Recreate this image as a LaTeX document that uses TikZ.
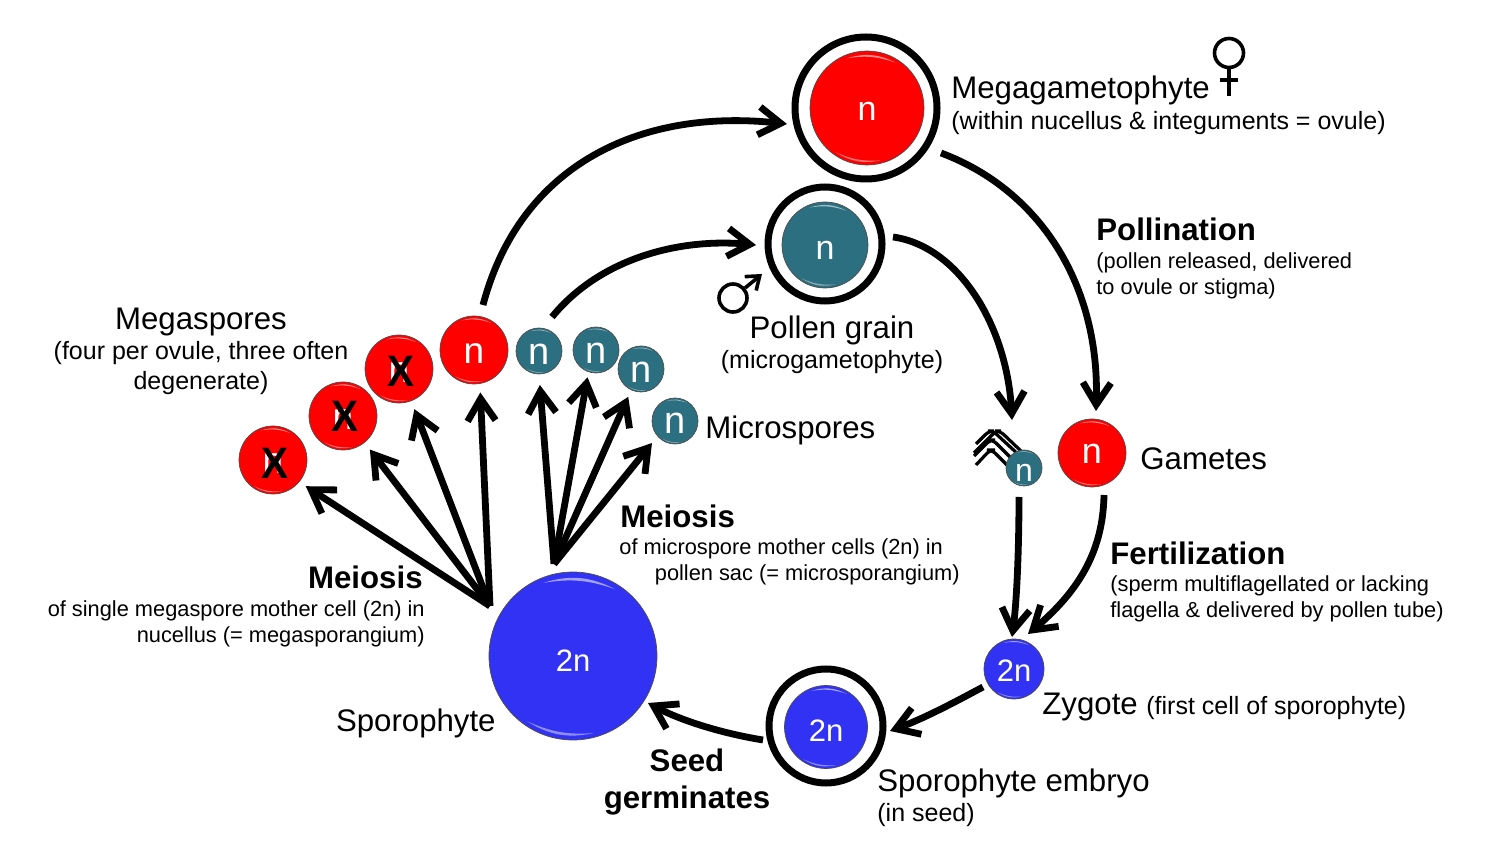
\documentclass[tikz,border=0pt]{standalone}
\usepackage{fontspec}
\setmainfont{Liberation Sans}
\usetikzlibrary{arrows.meta,calc}
\definecolor{cellred}{RGB}{255,0,0}
\definecolor{cellteal}{RGB}{43,111,128}
\definecolor{cellblue}{RGB}{50,50,245}
\newcommand{\fsL}{\fontsize{15.6pt}{18pt}\selectfont}
\newcommand{\gloss}[1]{%
  \fill[white,opacity=.55] ($(#1)!.94!(#1.112)$) to[bend left=22] ($(#1)!.94!(#1.58)$) to[bend right=14] cycle;
  \fill[white,opacity=.45] ($(#1)!.95!(#1.285)$) to[bend left=14] ($(#1)!.95!(#1.235)$) to[bend right=22] cycle;}
\tikzset{
  cell/.style n args={2}{circle,draw=black!70,line width=.35pt,fill=#1,minimum size=#2*1pt,inner sep=0pt,outer sep=0pt,text=white,text depth=0pt},
  celltext/.style n args={2}{font=\fontsize{#1}{18pt}\selectfont,text height=#2},
  ring/.style={circle,draw=black,line width=3.5pt,fill=white,inner sep=0pt,outer sep=0pt,minimum size=#1*1pt},
  flow/.style={line width=3.4pt,draw=black,line join=miter,-{Straight Barb[length=11pt,width=14pt]},line cap=butt},
  big/.style={font=\fsL,inner sep=0pt,text=black},
  small/.style={font=\fontsize{12.5pt}{14pt}\selectfont,inner sep=0pt,text=black},
  tiny/.style={font=\fontsize{10.9pt}{13pt}\selectfont,inner sep=0pt,text=black},
  head/.style={font=\fontsize{15.6pt}{18pt}\selectfont\bfseries,inner sep=0pt,text=black},
  xmark/.style={font=\fontsize{22pt}{24pt}\selectfont\bfseries,inner sep=0pt,text=black},
  flag/.style={line width=1.6pt,draw=black,rounded corners=2.5pt},
  sexsym/.style={line width=1.8pt,draw=black}
}
\begin{document}
\begin{tikzpicture}[x=.5pt,y=-.5pt]
\useasboundingbox (0,0) rectangle (1500,844);
% rings and main cells
\node[ring=71] (megaring) at (866,108) {};
\node[cell={cellred}{57},celltext={17pt}{12.2pt}] (mega) at (867,108) {n};
\node[ring=57] (pollenring) at (825,244) {};
\node[cell={cellteal}{43},celltext={17pt}{14.2pt}] (pollen) at (825,245) {n};
\node[ring=57] (embryoring) at (826,726) {};
\node[cell={cellblue}{41.5},celltext={15.5pt}{14.2pt}] (embryo) at (826,727) {2n};
\node[cell={cellblue}{84},celltext={15.5pt}{15.2pt}] (sporo) at (573,656) {2n};
\node[cell={cellblue}{30},celltext={15.5pt}{12.2pt}] (zygote) at (1014,669) {2n};
\node[cell={cellred}{34},celltext={18pt}{10.2pt}] (gamete) at (1092,453) {n};
% megaspores
\node[cell={cellred}{34},celltext={18.5pt}{13.2pt}] (ms1) at (273,460) {n};
\node[cell={cellred}{34},celltext={18.5pt}{13.2pt}] (ms2) at (343,416) {n};
\node[cell={cellred}{34},celltext={18.5pt}{13.2pt}] (ms3) at (399,369) {n};
\node[cell={cellred}{34},celltext={18.5pt}{13.2pt}] (ms4) at (474,350) {n};
\node[xmark] (x1) at (275,463) {\scalebox{.92}[1]{X}};
\node[xmark] (x2) at (345,416) {\scalebox{.92}[1]{X}};
\node[xmark] (x3) at (401,371) {\scalebox{.92}[1]{X}};
% microspores
\node[cell={cellteal}{23},celltext={19pt}{13.2pt}] (mi1) at (539,351) {n};
\node[cell={cellteal}{23},celltext={19pt}{13.2pt}] (mi2) at (596,350) {n};
\node[cell={cellteal}{23},celltext={19pt}{13.2pt}] (mi3) at (641,369) {n};
\node[cell={cellteal}{23},celltext={19pt}{12.2pt}] (mi4) at (675,421) {n};
% sperm with flagella
\draw[flag] (976,444) -- (989,431) -- (993,431) -- (1020,456);
\draw[flag] (974,453) -- (996,431) -- (1000,431) -- (1022,452);
\draw[flag] (974,456) -- (990,440) -- (993,440) -- (1015,462);
\draw[flag] (976,465) -- (990,450) -- (992,450) -- (1010,468);
\node[cell={cellteal}{18},celltext={16pt}{13.2pt}] (sperm) at (1024,468) {n};
\foreach \c in {mega,pollen,embryo,sporo,zygote,gamete,ms1,ms2,ms3,ms4,mi1,mi2,mi3,mi4,sperm}{\gloss{\c}}
% hubs
\coordinate (hubL) at (490,606);
\coordinate (hubR) at (554,564);
\draw[flow,shorten >=4pt] (hubL) -- (ms1.320);
\draw[flow,shorten >=4.5pt] (hubL) -- (ms2.309);
\draw[flow,shorten >=4.5pt] (hubL) -- (ms3.291);
\draw[flow,shorten >=4.5pt] (hubL) -- (ms4.280);
\draw[flow,shorten >=5.5pt] (hubR) -- (mi1.270);
\draw[flow,shorten >=2.8pt] (hubR) -- (mi2.251);
\draw[flow,shorten >=3.8pt] (hubR) -- (mi3.245);
\draw[flow,shorten >=4.5pt] (hubR) -- (mi4.221);
% cycle
\coordinate (a1) at (483,305);
\coordinate (b1) at (787,124);
\draw[flow] (a1) .. controls (520,165) and (640,108) .. (b1);
\coordinate (a2) at (552,317);
\coordinate (b2) at (756,245);
\draw[flow] (a2) .. controls (600,258) and (680,238) .. (b2);
\coordinate (a3) at (941,153);
\coordinate (b3) at (1096,411);
\draw[flow] (a3) .. controls (1040,190) and (1100,285) .. (b3);
\coordinate (a4) at (893,237);
\coordinate (b4) at (1012,420);
\draw[flow] (a4) .. controls (958,246) and (1007,325) .. (b4);
\coordinate (a5) at (1019,497);
\coordinate (b5) at (1012,637);
\draw[flow] (a5) .. controls (1019,545) and (1017,600) .. (b5);
\coordinate (a6) at (1104,495);
\coordinate (b6) at (1028,634);
\draw[flow] (a6) .. controls (1103,550) and (1080,590) .. (b6);
\coordinate (a7) at (983,687);
\coordinate (b7) at (890,731);
\draw[flow] (a7) .. controls (955,702) and (925,718) .. (b7);
\coordinate (a8) at (763,740);
\coordinate (b8) at (648,703);
\draw[flow] (a8) .. controls (720,733) and (680,720) .. (b8);
% sex symbols
\node[circle,sexsym,minimum size=14.5pt,inner sep=0pt] (female) at (1229,53) {};
\coordinate (fbot) at (1229,96);
\coordinate (fl) at (1220,80);
\coordinate (fr) at (1238,80);
\draw[sexsym] (female) -- (fbot);
\draw[sexsym] (fl) -- (fr);
\node[circle,sexsym,minimum size=14pt,inner sep=0pt] (male) at (733,298) {};
\coordinate (mtip) at (762,274);
\draw[sexsym,-{Straight Barb[length=6pt,width=9pt]}] (male) -- (mtip);
% labels
\node[big,anchor=west] (t1) at (951,90) {Megagametophyte};
\node[small,anchor=west] (t2) at (951,123) {(within nucellus \& integuments = ovule)};
\node[head,anchor=west] (t3) at (1096,229) {Pollination};
\node[tiny,anchor=west] (t4) at (1096,263) {(pollen released, delivered};
\node[tiny,anchor=west] (t5) at (1096,289) {to ovule or stigma)};
\node[big] (t6) at (832,330) {Pollen grain};
\node[small] (t7) at (832,362) {(microgametophyte)};
\node[big] (t8) at (201,322) {Megaspores};
\node[small] (t9) at (201,353) {(four per ovule, three often};
\node[small] (t10) at (201,383) {degenerate)};
\node[big,anchor=west] (t11) at (705,430) {Microspores};
\node[big,anchor=west] (t12) at (1140,459) {Gametes};
\node[head,anchor=west] (t13) at (620,516) {Meiosis};
\node[tiny,anchor=west] (t14) at (619,549) {of microspore mother cells (2n) in};
\node[tiny,anchor=east] (t15) at (960,575) {pollen sac (= microsporangium)};
\node[head,anchor=east] (t16) at (423,577) {Meiosis};
\node[tiny,anchor=east] (t17) at (425,611) {of single megaspore mother cell (2n) in};
\node[tiny,anchor=east] (t18) at (425,637) {nucellus (= megasporangium)};
\node[head,anchor=west] (t19) at (1110,553) {Fertilization};
\node[tiny,anchor=west] (t20) at (1110,586) {(sperm multiflagellated or lacking};
\node[tiny,anchor=west] (t21) at (1110,612) {flagella \& delivered by pollen tube)};
\node[big,anchor=west] (t22) at (1042,707) {Zygote};
\node[small,anchor=west] (t23) at (1146,708) {(first cell of sporophyte)};
\node[big,anchor=east] (t24) at (496,723) {Sporophyte};
\node[big,anchor=west] (t25) at (877,783) {Sporophyte embryo};
\node[small,anchor=west] (t26) at (877,815) {(in seed)};
\node[head] (t27) at (687,760) {Seed};
\node[head] (t28) at (687,800) {germinates};
\end{tikzpicture}
\end{document}
